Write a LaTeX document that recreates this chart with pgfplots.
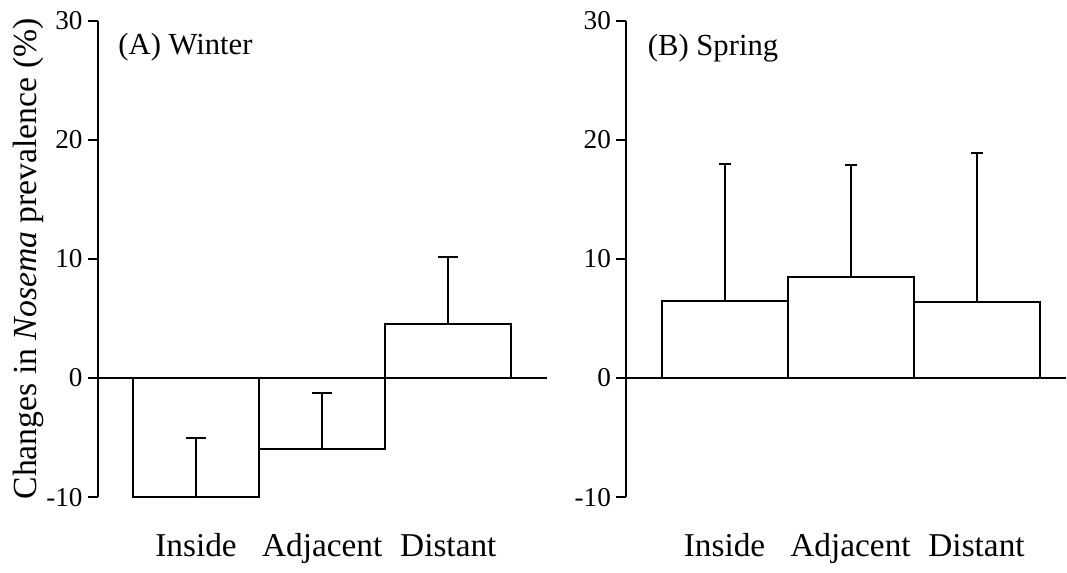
\documentclass[border=0pt]{standalone}
\usepackage{fontspec}
\setmainfont{Liberation Serif}
\usepackage{pgfplots}
\pgfplotsset{compat=1.18}

% one pixel of the reference is 0.375pt
\pgfplotsset{
  panel/.style={
    scale only axis,
    height=178.9pt,
    ymin=-10, ymax=30,
    ytick={-10,0,10,20,30},
    axis lines*=left,
    x axis line style={draw=none},
    axis line style={line width=0.75pt},
    xtick={1,2,3},
    xticklabels={Inside,Adjacent,Distant},
    x tick style={draw=none},
    y tick style={line width=0.75pt,black},
    tick align=outside,
    major tick length=3.75pt,
    /pgf/number format/assume math mode=true,
    yticklabel style={font=\fontsize{10.2}{12}\selectfont,xshift=1.5pt},
    xticklabel style={font=\fontsize{12.5}{15}\selectfont,
      text height=9pt,yshift=-6pt},
    clip=false,
  },
  bars/.style={
    ybar, bar width=1, bar shift=0pt,
    fill=white, draw=black, line width=0.75pt,
  },
}
\tikzset{paneltitle/.style={anchor=base west,inner sep=0pt,
  font=\fontsize{11.5}{14}\selectfont}}

\begin{document}
\begin{tikzpicture}
\begin{axis}[panel,
  width=168.4pt,
  xmin=0.222, xmax=3.78,
  ylabel={Changes in \textit{Nosema} prevalence (\%)},
  ylabel style={at={(rel axis cs:-0.154,0.5)},anchor=center,
    font=\fontsize{12.65}{15}\selectfont},
]
\addplot[bars,
  error bars/.cd, y dir=plus, y explicit,
  error bar style={line width=0.75pt},
  error mark options={rotate=90,mark size=3.75pt,line width=0.75pt},
] coordinates {
  (1,-10)   +- (0,4.97)
  (2,-5.92) +- (0,4.63)
  (3,4.52)  +- (0,5.68)
};
\draw[line width=0.75pt] (rel axis cs:0,0.25) -- (rel axis cs:1,0.25);
\node[paneltitle] at (rel axis cs:0.0445,0.928) {(A) Winter};
\end{axis}

\begin{axis}[panel,
  at={(198.26pt,0pt)}, anchor=south west,
  width=165pt,
  xmin=0.22, xmax=3.71,
]
\addplot[bars,
  error bars/.cd, y dir=plus, y explicit,
  error bar style={line width=0.75pt},
  error mark options={rotate=90,mark size=2.25pt,line width=0.75pt,xshift=1.5pt},
] coordinates {
  (1,6.45) +- (0,11.53)
  (2,8.44) +- (0,9.41)
  (3,6.42) +- (0,12.46)
};
\draw[line width=0.75pt] (rel axis cs:0,0.25) -- (rel axis cs:1,0.25);
\node[paneltitle] at (rel axis cs:0.048,0.927) {(B) Spring};
\end{axis}

\path (-36.75pt,-24.5pt) rectangle (363.4pt,186.6pt);
\end{tikzpicture}
\end{document}
